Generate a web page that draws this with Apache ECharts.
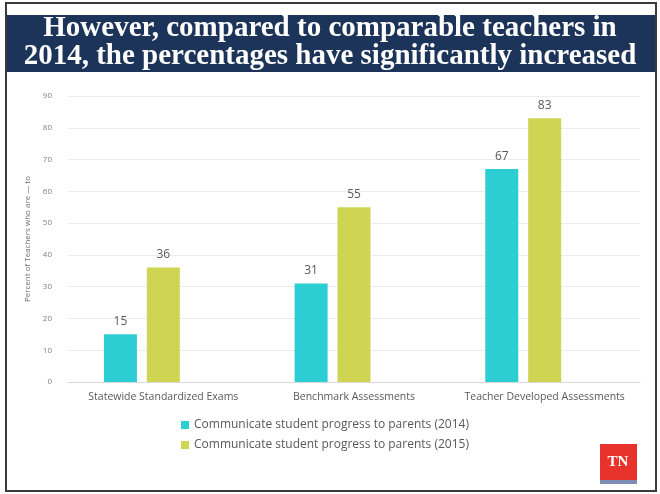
<!DOCTYPE html>
<html>
<head>
<meta charset="utf-8">
<script src="https://cdn.jsdelivr.net/npm/echarts@6/dist/echarts.min.js"></script>
<style>
  html, body { margin: 0; padding: 0; background: #fff; }
  #myChart { width: 660px; height: 494px; }
</style>
</head>
<body>
<div id="myChart"></div>
<script>
// data
var categories = ['Statewide Standardized Exams', 'Benchmark Assessments', 'Teacher Developed Assessments']
var series2014 = [15, 31, 67]
var series2015 = [36, 55, 83]
var seriesNames = ['Communicate student progress to parents (2014)', 'Communicate student progress to parents (2015)']
var yTicks = [0, 10, 20, 30, 40, 50, 60, 70, 80, 90]

var myChart = echarts.init(document.getElementById('myChart'))

var barLabel = {
  show: true,
  position: 'top',
  distance: 7,
  color: '#595959',
  fontSize: 12,
  fontFamily: 'Open Sans'
}

var option = {
  backgroundColor: '#fff',
  animation: false,
  graphic: [
    // outer frame
    { type: 'rect', shape: { x: 6, y: 3, width: 650, height: 488 }, style: { fill: 'none', stroke: '#3a3a3a', lineWidth: 2 } },
    // title band
    { type: 'rect', shape: { x: 7, y: 15, width: 648, height: 57 }, style: { fill: '#1c3459' } },
    { type: 'text', left: 'center', top: 14, style: { text: 'However, compared to comparable teachers in', fill: '#fff', font: 'bold 29px "Liberation Serif"' } },
    { type: 'text', left: 'center', top: 42, style: { text: '2014, the percentages have significantly increased', fill: '#fff', font: 'bold 29px "Liberation Serif"' } },
    // TN logo
    { type: 'rect', shape: { x: 600, y: 444, width: 37, height: 36 }, style: { fill: '#e8322c' } },
    { type: 'rect', shape: { x: 600, y: 480, width: 37, height: 4 }, style: { fill: '#7d8db3' } },
    { type: 'text', x: 618, y: 462, style: { text: 'TN', fill: '#fff', font: 'bold 15px "Liberation Sans Narrow"', textAlign: 'center', textVerticalAlign: 'middle' } }
  ],
  grid: {
    left: 68,
    right: 20,
    top: 96,
    bottom: 112
  },
  legend: {
    orient: 'vertical',
    left: 176,
    top: 414,
    itemWidth: 8,
    itemHeight: 8,
    itemGap: 8,
    icon: 'rect',
    data: seriesNames,
    textStyle: { color: '#595959', fontSize: 12, fontFamily: 'Open Sans' }
  },
  xAxis: {
    type: 'category',
    data: categories,
    axisLine: { lineStyle: { color: '#d9d9d9' } },
    axisTick: { show: false },
    axisLabel: { interval: 0, color: '#595959', fontSize: 10.5, fontFamily: 'Open Sans', margin: 10 }
  },
  yAxis: {
    type: 'value',
    min: yTicks[0],
    max: yTicks[yTicks.length - 1],
    interval: 10,
    name: 'Percent of Teachers who are — to',
    nameLocation: 'middle',
    nameGap: 32,
    nameTextStyle: { color: '#6f6f6f', fontSize: 8, fontFamily: 'Open Sans' },
    axisLine: { show: false },
    axisTick: { show: false },
    axisLabel: { color: '#7f7f7f', fontSize: 8, fontFamily: 'Open Sans', margin: 16 },
    splitLine: { lineStyle: { color: '#ececec' } }
  },
  series: [
    {
      name: seriesNames[0],
      type: 'bar',
      data: series2014,
      barWidth: 33,
      barGap: '30%',
      itemStyle: { color: '#2ccdd3' },
      label: barLabel
    },
    {
      name: seriesNames[1],
      type: 'bar',
      data: series2015,
      barWidth: 33,
      barGap: '30%',
      itemStyle: { color: '#cfd453' },
      label: barLabel
    },
    {
      // empty third slot, keeps bars left of category centre
      name: 'empty',
      type: 'bar',
      data: [null, null, null],
      barWidth: 33,
      barGap: '30%'
    }
  ]
}

myChart.setOption(option)
</script>
</body>
</html>
